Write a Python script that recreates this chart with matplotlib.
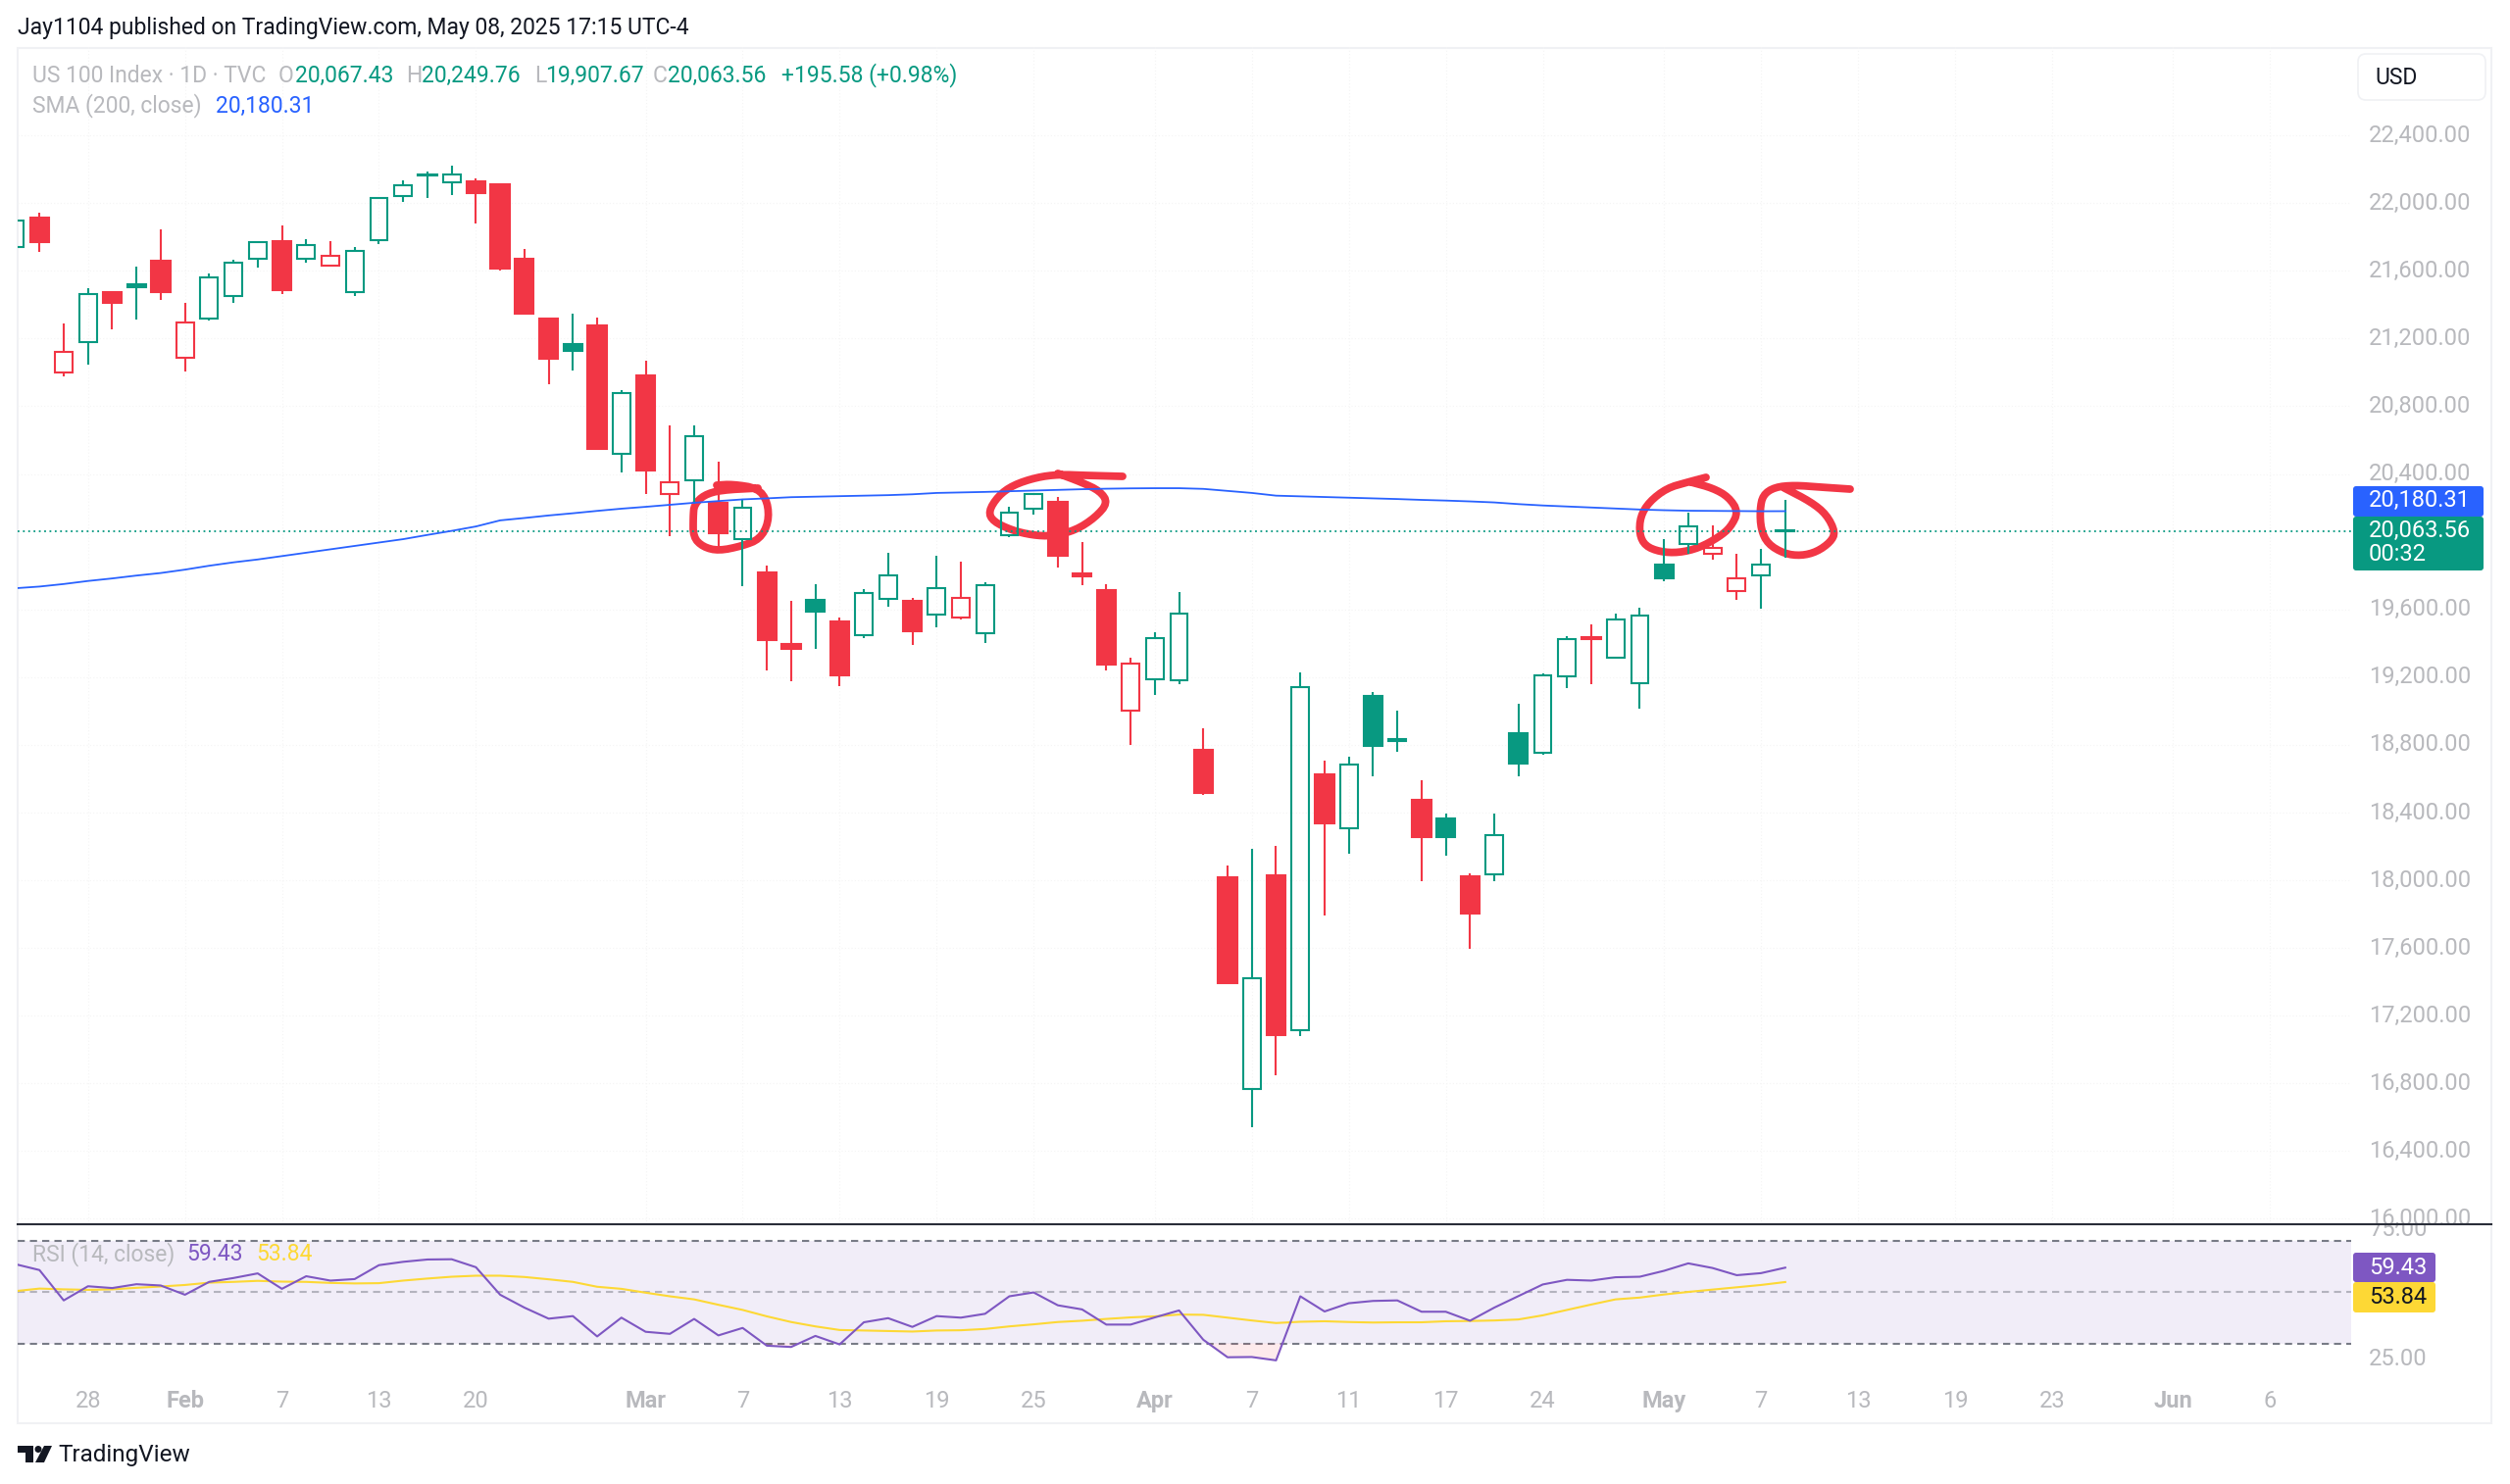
import numpy as np
import matplotlib
matplotlib.use("Agg")
import matplotlib.pyplot as plt
from matplotlib.patches import FancyBboxPatch, Polygon, Rectangle
from matplotlib.transforms import Affine2D, Bbox, ScaledTranslation

W, H = 2560, 1514

# candles, oldest first
highs = [21898, 21946, 21292, 21500, 21481, 21623, 21847, 21408, 21582, 21664,
         21774, 21870, 21790, 21774, 21742, 22037, 22136, 22188, 22220, 22147,
         22110, 21728, 21321, 21349, 21324, 20898, 21072, 20686, 20686, 20471,
         20251, 19859, 19653, 19751, 19553, 19719, 19937, 19666, 19917, 19881,
         19763, 20204, 20289, 20265, 19997, 19750, 19312, 19463, 19705, 18898,
         18086, 18186, 18205, 19230, 18707, 18728, 19110, 19004, 18593, 18394,
         18041, 18396, 19041, 19222, 19442, 19514, 19578, 19610, 20018, 20170,
         20095, 19926, 19955, 20249.76]
tops = [21898, 21914, 21122, 21461, 21472, 21520, 21660, 21294, 21564, 21651,
        21772, 21774, 21751, 21687, 21715, 22028, 22108, 22172, 22170, 22131,
        22110, 21671, 21319, 21166, 21280, 20878, 20985, 20349, 20624, 20228,
        20198, 19819, 19398, 19657, 19527, 19697, 19802, 19653, 19728, 19670,
        19746, 20170, 20281, 20236, 19811, 19713, 19278, 19432, 19575, 18768,
        18016, 17424, 18032, 19140, 18625, 18683, 19089, 18835, 18473, 18364,
        18022, 18269, 18866, 19209, 19424, 19436, 19541, 19565, 19862, 20093,
        19965, 19785, 19862, 20067.43]
bottoms = [21740, 21772, 20999, 21182, 21410, 21502, 21475, 21084, 21317, 21454,
           21671, 21484, 21671, 21628, 21472, 21783, 22040, 22163, 22122, 22062,
           21612, 21347, 21081, 21129, 20546, 20521, 20423, 20279, 20361, 20048,
           20018, 19421, 19369, 19587, 19213, 19448, 19663, 19473, 19568, 19553,
           19460, 20040, 20196, 19915, 19795, 19275, 19001, 19190, 19182, 18518,
           17395, 16769, 17087, 17116, 18338, 18309, 18795, 18823, 18253, 18253,
           17801, 18033, 18691, 18755, 19206, 19423, 19315, 19164, 19785, 19984,
           19928, 19708, 19803, 20063.56]
lows = [21740, 21710, 20978, 21045, 21253, 21310, 21429, 21003, 21308, 21408,
        21619, 21463, 21646, 21628, 21454, 21760, 22010, 22030, 22046, 21879,
        21600, 21340, 20933, 21013, 20541, 20407, 20281, 20034, 20224, 19972,
        19739, 19238, 19176, 19369, 19145, 19431, 19618, 19389, 19493, 19543,
        19404, 20029, 20162, 19846, 19742, 19238, 18800, 19094, 19156, 18502,
        17390, 16543, 16848, 17082, 17791, 18155, 18614, 18757, 17993, 18144,
        17594, 17993, 18614, 18744, 19134, 19161, 19307, 19012, 19764, 19928,
        19896, 19657, 19607, 19907.67]
# G filled green, g hollow green, R filled red, r hollow red
kinds = list("gRrgRGRrgg" "gRgrgggGgR" "RRRGRgRrgR" "gRRGRggRgr"
             "gggRRRrggR" "RgRgRgGgRG" "RgGggRggGg" "rrgG")

sma = [19725, 19735, 19750, 19768, 19783, 19800, 19815, 19835, 19858, 19878,
       19895, 19915, 19935, 19955, 19975, 19995, 20015, 20040, 20064, 20090,
       20126, 20140, 20155, 20168, 20182, 20195, 20206, 20218, 20230, 20240,
       20250, 20256, 20263, 20266, 20269, 20272, 20275, 20280, 20288, 20291,
       20294, 20298, 20302, 20306, 20310, 20313, 20315, 20316, 20316, 20312,
       20300, 20288, 20272, 20268, 20264, 20260, 20256, 20252, 20247, 20243,
       20238, 20232, 20222, 20214, 20208, 20202, 20196, 20190, 20186, 20183,
       20182, 20181, 20180, 20180.31]

rsi = [60.8, 58.5, 46.7, 52.2, 51.5, 53.0, 52.5, 48.9, 53.9, 55.4,
       57.2, 51.2, 56.1, 54.4, 55.0, 60.4, 61.7, 62.6, 62.7, 59.6,
       48.9, 43.9, 39.6, 40.6, 32.7, 40.0, 34.5, 33.7, 39.5, 33.1,
       36.0, 29.1, 28.6, 32.9, 29.6, 38.2, 39.8, 36.4, 40.6, 40.0,
       41.5, 48.3, 49.8, 44.8, 43.2, 37.3, 37.3, 40.1, 42.8, 31.4,
       24.6, 24.7, 23.4, 48.3, 42.4, 45.6, 46.5, 46.7, 42.3, 42.3,
       38.8, 43.9, 48.4, 52.9, 54.7, 54.4, 55.7, 55.9, 58.2, 61.1,
       59.3, 56.5, 57.3, 59.43]
rsi_ma = [50.3, 51.3, 51.0, 50.8, 51.0, 51.6, 52.1, 52.7, 53.6, 53.9,
          54.3, 54.0, 53.9, 53.5, 53.3, 53.4, 54.4, 55.2, 55.9, 56.3,
          56.3, 55.8, 54.9, 53.9, 52.0, 51.2, 49.7, 48.3, 47.1, 45.0,
          43.0, 40.5, 38.3, 36.6, 35.2, 35.0, 34.8, 34.6, 35.0, 35.1,
          35.6, 36.6, 37.4, 38.3, 38.8, 39.5, 40.1, 40.5, 41.2, 41.1,
          40.0, 38.9, 37.9, 38.4, 38.6, 38.3, 38.1, 38.2, 38.2, 38.6,
          38.7, 38.9, 39.3, 40.9, 43.0, 45.1, 47.1, 47.8, 49.0, 50.0,
          50.9, 51.8, 52.7, 53.84]

price_ticks = [22400, 22000, 21600, 21200, 20800, 20400, 19600, 19200, 18800,
               18400, 18000, 17600, 17200, 16800, 16400, 16000]
date_pos = [3, 7, 11, 15, 19, 26, 30, 34, 38, 42, 47, 51, 55, 59, 63, 68, 72, 76, 80, 84, 89, 93]
date_labels = ["28", "Feb", "7", "13", "20", "Mar", "7", "13", "19", "25", "Apr",
               "7", "11", "17", "24", "May", "7", "13", "19", "23", "Jun", "6"]
last_close = 20063.56

# hand drawn circles, traced in image pixels
circle_1 = [(731, 495), (747, 494), (773, 498), (783, 512), (784, 533), (775, 550), (757, 557),
            (733, 562), (717, 558), (707, 548), (707, 527), (708, 515), (718, 505), (735, 500), (773, 498)]
circle_2 = [(1145, 486), (1107, 485), (1080, 484), (1057, 487), (1033, 495), (1018, 506), (1008, 522),
            (1013, 532), (1032, 541), (1053, 546), (1073, 547), (1097, 541), (1117, 528), (1130, 513),
            (1122, 501), (1103, 492), (1079, 483)]
circle_3 = [(1740, 487), (1721, 492), (1700, 498), (1682, 512), (1673, 527), (1672, 545), (1678, 557),
            (1693, 563), (1712, 564), (1733, 559), (1753, 548), (1765, 538), (1773, 522), (1763, 507),
            (1747, 498), (1725, 492)]
circle_4 = [(1887, 499), (1857, 497), (1830, 495), (1810, 497), (1798, 505), (1795, 520), (1796, 540),
            (1803, 555), (1820, 565), (1837, 567), (1853, 563), (1867, 553), (1872, 543), (1863, 525),
            (1847, 512), (1820, 498)]

RED = "#f23645"
GREEN = "#089981"
BLUE = "#2962ff"
PURPLE = "#7e57c2"
YELLOW = "#fdd835"
GREY = "#b8b9bd"

plt.rcParams["font.family"] = ["Roboto", "DejaVu Sans"]
fig = plt.figure(figsize=(W / 100, H / 100), dpi=100, facecolor="white")
pix = Affine2D().scale(1, -1).translate(0, H)  # image pixels, origin top left


def add_axes_px(left, top, right, bottom):
    return fig.add_axes([left / W, 1 - bottom / H, (right - left) / W, (bottom - top) / H])


def txt(x, y, s, color=GREY, size=16.5, **kw):
    kw.setdefault("va", "center")
    fig.text(x, y, s, color=color, fontsize=size, transform=pix, **kw)


def tag(x0, y0, x1, y1, color):
    fig.add_artist(FancyBboxPatch((x0 + 2, y0 + 2), x1 - x0 - 4, y1 - y0 - 4, boxstyle="round,pad=2,rounding_size=3",
                                  fc=color, ec="none", transform=pix, zorder=3))


def smooth(points, rounds=2):
    # corner cutting so the pen strokes do not look like polygons
    pts = np.array(points, dtype=float)
    for _ in range(rounds):
        a, b = pts[:-1], pts[1:]
        cut = np.empty((2 * len(a), 2))
        cut[0::2] = 0.75 * a + 0.25 * b
        cut[1::2] = 0.25 * a + 0.75 * b
        pts = np.vstack([pts[:1], cut, pts[-1:]])
    return pts


ax = add_axes_px(18, 48, 2398, 1249)
ax_rsi = add_axes_px(18, 1249, 2398, 1412)

xlim = (0.10, 96.34)
x = np.arange(len(highs))

# price pane
for c in [circle_1, circle_2, circle_3, circle_4]:
    pts = smooth(c)
    ax.plot(pts[:, 0], pts[:, 1], color=RED, lw=5.6, solid_capstyle="round", solid_joinstyle="round",
            transform=pix, zorder=1)

for p in price_ticks:
    ax.axhline(p, color="#f5f5f5", lw=0.8, ls=(0, (1, 2)), zorder=0)
for d in date_pos:
    ax.axvline(d, color="#f5f5f5", lw=0.8, ls=(0, (1, 2)), zorder=0)
ax.axhline(last_close, color=GREEN, lw=1.3, ls=(0, (1, 2)), zorder=2)

colors = [GREEN if k in "Gg" else RED for k in kinds]
ax.vlines(x, tops, highs, colors=colors, lw=1.5, zorder=3)
ax.vlines(x, lows, bottoms, colors=colors, lw=1.5, zorder=3)
for i in x:
    hollow = kinds[i] in "gr"
    ax.bar(i, tops[i] - bottoms[i], bottom=bottoms[i], width=0.72 if hollow else 0.78,
           facecolor="none" if hollow else colors[i], edgecolor=colors[i], lw=1.5, zorder=3)
ax.plot(x, sma, color=BLUE, lw=1.3, zorder=4)

ax.set_xlim(xlim)
ax.set_ylim(15968, 22922)
ax.set_xticks([])
ax.yaxis.tick_right()
ax.set_yticks(price_ticks)
ax.set_yticklabels([f"{p:,.2f}" for p in price_ticks])
ax.tick_params(axis="y", length=0, pad=13, labelsize=17, labelcolor=GREY)
label_up = ScaledTranslation(0, 2.5 / 100, fig.dpi_scale_trans)
for lab in ax.get_yticklabels():
    lab.set_transform(lab.get_transform() + label_up)
for s in ax.spines.values():
    s.set_visible(False)
ax.patch.set_alpha(0)

# rsi pane
ax_rsi.axhspan(30, 70, color=PURPLE, alpha=0.1, lw=0, zorder=0)
ax_rsi.axhline(70, color="#787b86", lw=1.5, ls=(0, (3.5, 2.5)), zorder=1)
ax_rsi.axhline(50, color="#787b86", lw=1.5, ls=(0, (3.5, 2.5)), alpha=0.5, zorder=1)
ax_rsi.axhline(30, color="#787b86", lw=1.5, ls=(0, (3.5, 2.5)), zorder=1)
rsi_arr = np.array(rsi)
ax_rsi.fill_between(x, rsi_arr, 30, where=rsi_arr < 30, interpolate=True, color=RED, alpha=0.1, lw=0, zorder=1)
ax_rsi.plot(x, rsi_ma, color=YELLOW, lw=1.5, zorder=2)
ax_rsi.plot(x, rsi, color=PURPLE, lw=1.5, zorder=3)

ax_rsi.set_xlim(xlim)
ax_rsi.set_ylim(14.2, 76.3)
ax_rsi.yaxis.tick_right()
ax_rsi.set_yticks([75, 25])
ax_rsi.set_yticklabels(["75.00", "25.00"])
ax_rsi.tick_params(axis="y", length=0, pad=13, labelsize=17, labelcolor=GREY)
# the top rsi label is cut off by the pane separator
for lab in ax_rsi.get_yticklabels():
    lab.set_clip_on(True)
    lab.set_clip_box(Bbox.from_extents(2400, H - 1412, 2541, H - 1250))
ax_rsi.set_xticks(date_pos)
ax_rsi.set_xticklabels(date_labels)
ax_rsi.tick_params(axis="x", length=0, pad=4.5, labelsize=17, labelcolor=GREY)
for lab in ax_rsi.get_xticklabels():
    if lab.get_text() in ("Feb", "Mar", "Apr", "May", "Jun"):
        lab.set_fontweight("bold")
for s in ax_rsi.spines.values():
    s.set_visible(False)
ax_rsi.patch.set_alpha(0)

# outer frame and pane separator
fig.add_artist(Rectangle((18, 49), 2523, 1403, fc="none", ec="#f0f1f4", lw=1.5, transform=pix, zorder=0))
fig.add_artist(plt.Line2D([18, 2541], [1249, 1249], color="#2a2e39", lw=1.5, transform=pix, zorder=4))

# header and legends
txt(18, 28, "Jay1104 published on TradingView.com, May 08, 2025 17:15 UTC-4", color="#131722", size=16.45)
txt(33, 77, "US 100 Index · 1D · TVC")
for px_x, label in [(284, "O"), (414, "H"), (545, "L"), (666, "C")]:
    txt(px_x, 77, label)
for px_x, label in [(301, "20,067.43"), (430, "20,249.76"), (556, "19,907.67"), (681, "20,063.56"),
                    (797, "+195.58 (+0.98%)")]:
    txt(px_x, 77, label, color=GREEN)
txt(33, 108, "SMA (200, close)")
txt(220, 108, "20,180.31", color=BLUE)
txt(33, 1280, "RSI (14, close)")
txt(190, 1280, "59.43", color=PURPLE)
txt(261, 1280, "53.84", color=YELLOW)

# last value tags
tag(2400, 496, 2533, 527, BLUE)
tag(2400, 527, 2533, 582, GREEN)
txt(2416, 510, "20,180.31", color="white", size=17)
txt(2416, 541, "20,063.56", color="white", size=17)
txt(2416, 566, "00:32", color="white", size=17)
tag(2400, 1278, 2484, 1308, PURPLE)
tag(2400, 1308, 2484, 1339, YELLOW)
txt(2416, 1293, "59.43", color="white", size=17)
txt(2416, 1323, "53.84", color="#131722", size=17)

# currency box
fig.add_artist(FancyBboxPatch((2411, 61), 118, 35, boxstyle="round,pad=6,rounding_size=8", fc="white",
                              ec="#f0f1f4", lw=1.2, transform=pix, zorder=3))
txt(2422, 79, "USD", color="#131722", size=16.5)

# logo
fig.add_artist(Polygon([(18, 1475), (34, 1475), (34, 1492), (26, 1492), (26, 1482), (18, 1482)],
                       closed=True, fc="#131722", ec="none", transform=pix, zorder=3))
fig.add_artist(plt.Circle((39, 1478.5), 3.5, fc="#131722", ec="none", transform=pix, zorder=3))
fig.add_artist(Polygon([(45, 1475), (53, 1475), (45, 1492), (36, 1492)],
                       closed=True, fc="#131722", ec="none", transform=pix, zorder=3))
txt(59, 1484, "TradingView", color="#131722", size=17.5)

fig.savefig("out.png", dpi=100, facecolor="white")
